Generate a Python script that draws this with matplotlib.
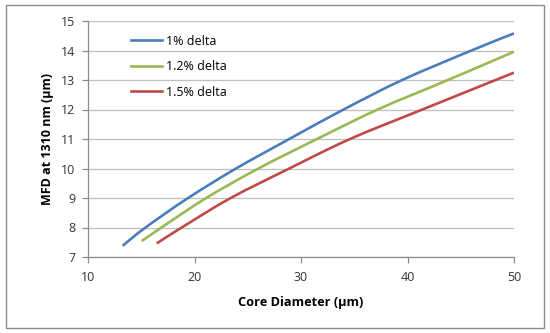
import matplotlib
matplotlib.use("Agg")
import matplotlib.pyplot as plt
from matplotlib.patches import Rectangle, PathPatch
from matplotlib.path import Path
from matplotlib.lines import Line2D

plt.rcParams['font.family'] = ['Open Sans', 'DejaVu Sans']

# values
x_1pct = [13.25, 15.4, 19.4, 23.9, 28.9, 34.0, 39.5, 46.0, 50]
y_1pct = [7.38, 8.0, 9.0, 10.0, 11.0, 12.0, 13.0, 14.0, 14.58]

x_12pct = [15.04, 16.9, 21.1, 26.0, 31.5, 37.2, 43.8, 50]
y_12pct = [7.54, 8.0, 9.0, 10.0, 11.0, 12.0, 13.0, 13.96]

x_15pct = [16.45, 18.8, 23.4, 28.9, 34.6, 41.4, 50]
y_15pct = [7.46, 8.0, 9.0, 10.0, 11.0, 12.0, 13.25]

labels = ["1% delta", "1.2% delta", "1.5% delta"]
colors = ["#4a7ebb", "#98b954", "#be4b48"]
xticks = [10, 20, 30, 40, 50]
yticks = [7, 8, 9, 10, 11, 12, 13, 14, 15]


def smooth_path(xs, ys, t=1/6):
    # Excel-like smoothed line: cubic bezier segments through the points
    verts = [(xs[0], ys[0])]
    codes = [Path.MOVETO]
    n = len(xs)
    for i in range(n - 1):
        x0, y0 = (xs[i-1], ys[i-1]) if i > 0 else (xs[i], ys[i])
        x1, y1 = xs[i], ys[i]
        x2, y2 = xs[i+1], ys[i+1]
        x3, y3 = (xs[i+2], ys[i+2]) if i + 2 < n else (x2, y2)
        c1 = (x1 + (x2 - x0) * t, y1 + (y2 - y0) * t)
        c2 = (x2 - (x3 - x1) * t, y2 - (y3 - y1) * t)
        verts += [c1, c2, (x2, y2)]
        codes += [Path.CURVE4] * 3
    return Path(verts, codes)


fig = plt.figure(figsize=(5.5, 3.33), dpi=100)
ax = fig.add_axes([88/550, 1-257/333, (514-88)/550, (257-21)/333])

# outer chart border
fig.patches.append(Rectangle((6/550, 5/333), 538/550, 323/333, transform=fig.transFigure,
                             fill=False, edgecolor="#8c8c8c", linewidth=1.0))

series = [(x_1pct, y_1pct), (x_12pct, y_12pct), (x_15pct, y_15pct)]
handles = []
for (xs, ys), lab, c in zip(series, labels, colors):
    ax.add_patch(PathPatch(smooth_path(xs, ys), facecolor='none', edgecolor=c,
                           linewidth=1.9, capstyle='butt'))
    handles.append(Line2D([], [], color=c, linewidth=1.9, label=lab))

ax.set_xlim(10, 50)
ax.set_ylim(7, 15)
ax.set_xticks(xticks)
ax.set_yticks(yticks)
ax.grid(axis='y', color="#bfbfbf", linewidth=0.9)
ax.set_axisbelow(True)
for s in ['top', 'right']:
    ax.spines[s].set_visible(False)
for s in ['left', 'bottom']:
    ax.spines[s].set_color("#8c8c8c")
    ax.spines[s].set_linewidth(0.9)
ax.tick_params(axis='both', colors="#8c8c8c", labelcolor="#333333", labelsize=9, length=4, width=0.9)
ax.tick_params(axis='x', pad=6)
ax.tick_params(axis='y', pad=5)

ax.set_xlabel("Core Diameter (µm)", fontsize=9.2, fontweight='bold', labelpad=9)
ax.set_ylabel("MFD at 1310 nm (µm)", fontsize=9, fontweight='bold', labelpad=5)

ax.legend(handles=handles, loc='upper left', bbox_to_anchor=(0.075, 0.99), frameon=False,
          fontsize=9, handlelength=2.5, handletextpad=0.3, labelspacing=1.0)

fig.savefig("out.png", dpi=100)
